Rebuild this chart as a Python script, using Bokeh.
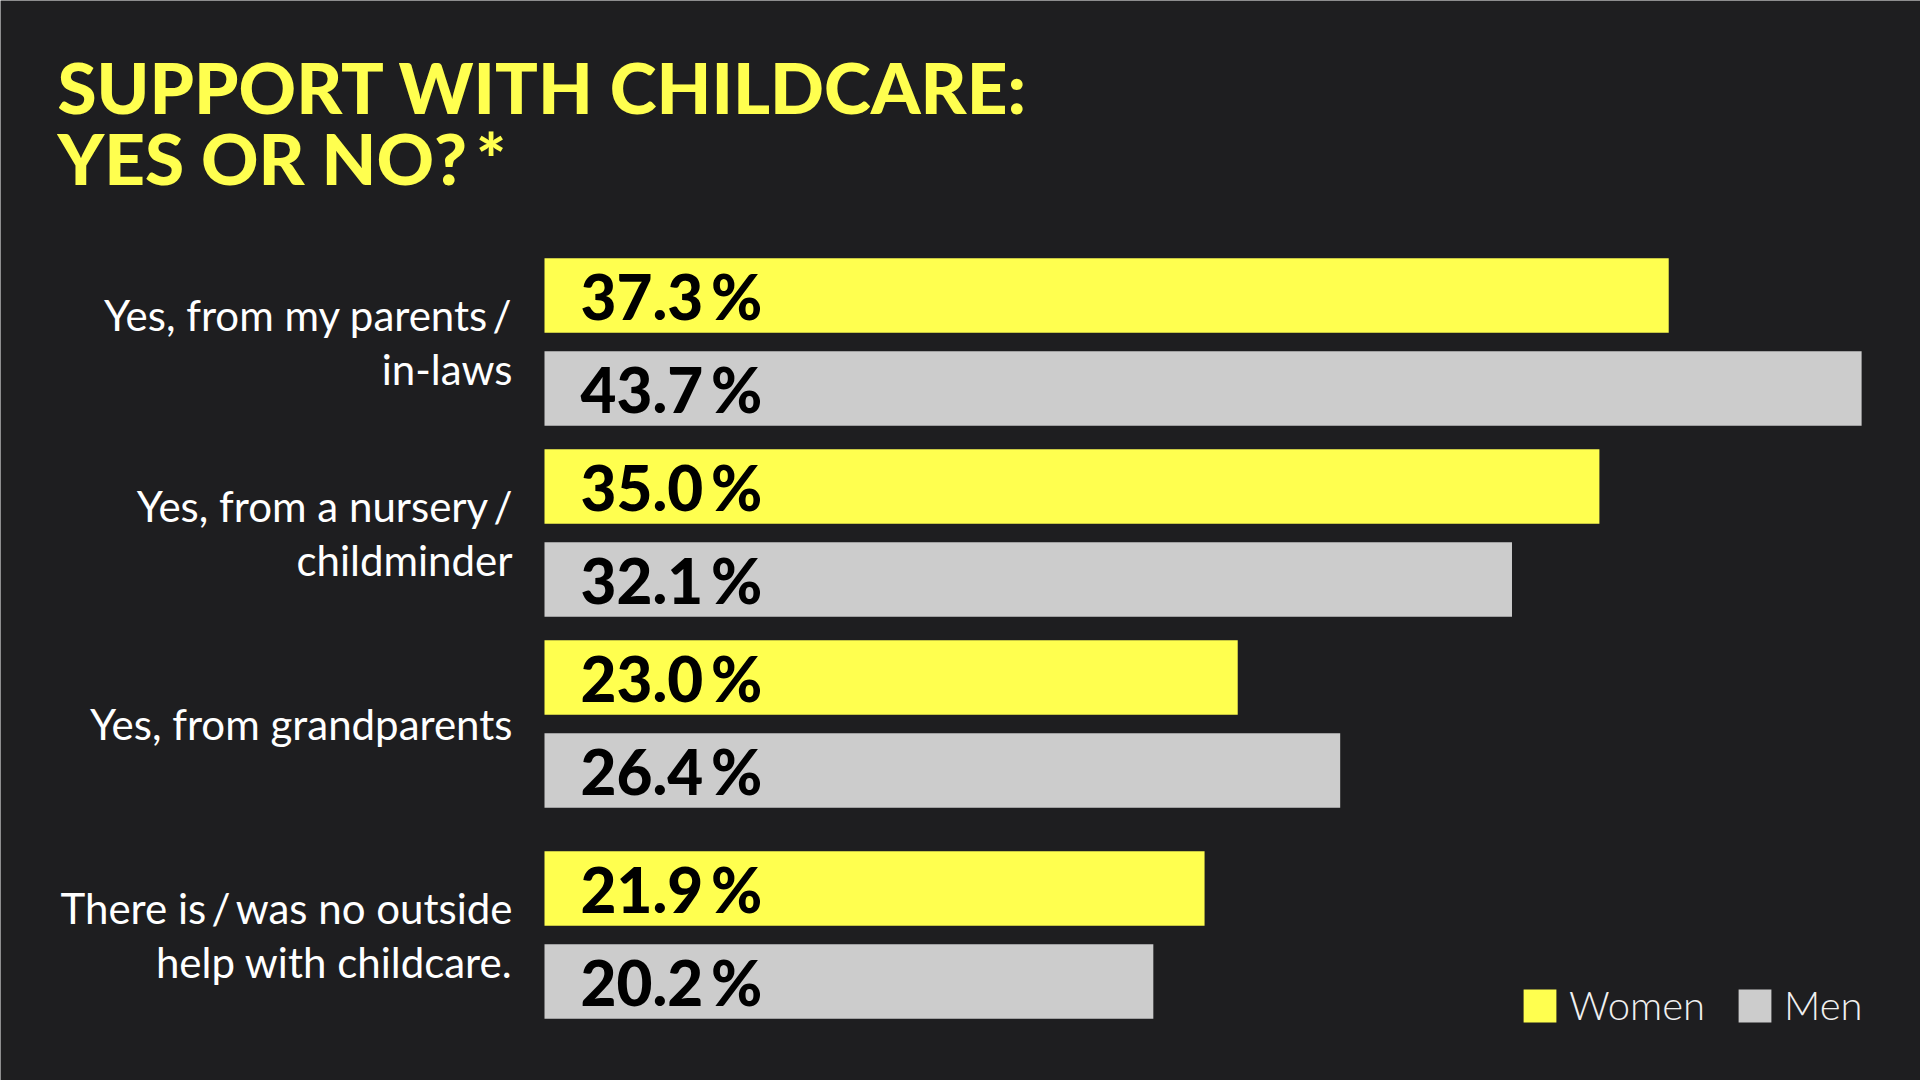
from bokeh.plotting import figure
from bokeh.models import ColumnDataSource, Range1d, Legend, LegendItem
from bokeh.core.properties import value
from bokeh.embed import file_html
from bokeh.resources import INLINE

# ---------------- data ----------------
categories = [
    "Yes, from my parents\u2009/\nin-laws",
    "Yes, from a nursery\u2009/\nchildminder",
    "Yes, from grandparents",
    "There is\u2009/\u2009was no outside\nhelp with childcare.",
]
women = [37.3, 35.0, 23.0, 21.9]
men = [43.7, 32.1, 26.4, 20.2]
series_names = ["Women", "Men"]
title_lines = ["SUPPORT WITH CHILDCARE:", "YES OR NO?\u2009*"]

# ---------------- style / layout ----------------
BG = "#1e1e20"
YELLOW = "#ffff4f"
GRAY = "#cccccc"
W, H = 1920, 1080
BAR_LEFT_PX = 544      # page px where 0 % sits
PX_PER_PCT = 30.14
ROW_PX = 93            # one bar row
FIRST_ROW_PX = 295     # centre of first bar (page px)
GROUP_GAP = 0.054      # extra space between answer groups (rows)
LAST_EXTRA = 0.215     # additional separation before the "no help" answer
BAR_H = 0.8


def px_x(px):
    return (px - BAR_LEFT_PX) / PX_PER_PCT


def px_y(px):
    return (px - FIRST_ROW_PX) / ROW_PX


def row(i, j):
    extra = LAST_EXTRA if i == len(categories) - 1 else 0.0
    return i * (2 + GROUP_GAP) + extra + j


p = figure(
    width=W, height=H,
    x_range=Range1d(px_x(0), px_x(W)),
    y_range=Range1d(px_y(H), px_y(0)),
    output_backend="svg", toolbar_location=None,
    min_border=0, min_border_left=0, min_border_right=0,
    min_border_top=0, min_border_bottom=0,
)
p.xaxis.visible = False
p.yaxis.visible = False
p.xgrid.visible = False
p.ygrid.visible = False
p.outline_line_color = None
p.background_fill_color = BG
p.border_fill_color = BG

renderers = []
for j, (vals, col) in enumerate(zip([women, men], [YELLOW, GRAY])):
    src = ColumnDataSource(dict(
        y=[row(i, j) for i in range(len(categories))],
        v=vals,
        t=[f"{v:.1f}\u2009%" for v in vals],
    ))
    r = p.hbar(y="y", left=0, right="v", height=BAR_H, source=src,
               fill_color=col, line_color=None)
    renderers.append(r)
    p.text(x=0, y="y", text="t", source=src, x_offset=36,
           text_font=value("'Lato Black', Lato"), text_font_style="bold",
           text_font_size="62px", text_color="#000000",
           text_align="left", text_baseline="middle")

# category labels
lab = ColumnDataSource(dict(
    y=[row(i, 0) + 0.5 for i in range(len(categories))],
    t=categories,
))
p.text(x=0, y="y", text="t", source=lab, x_offset=-32,
       text_font=value("Lato"), text_font_size="42px", text_color="#ffffff",
       text_align="right", text_baseline="middle", text_line_height=1.09)

# title
tsrc = ColumnDataSource(dict(
    x=[px_x(57)] * len(title_lines),
    y=[px_y(86), px_y(157)],
    t=title_lines,
))
p.text(x="x", y="y", text="t", source=tsrc,
       text_font=value("'Lato Black', Lato"), text_font_style="bold",
       text_font_size="71px", text_color=YELLOW,
       text_align="left", text_baseline="alphabetic")

legend = Legend(
    items=[LegendItem(label=n, renderers=[r]) for n, r in zip(series_names, renderers)],
    orientation="horizontal", location=(1519, 51),
    glyph_width=41, glyph_height=41, label_standoff=9, spacing=29,
    padding=0, margin=0, border_line_alpha=0, background_fill_alpha=0,
    label_text_color="#f0f0f0", label_text_font_size="40px",
    label_text_font="'Lato Light', Lato",
)
p.add_layout(legend)

open("out.html", "w").write(file_html(p, INLINE))
